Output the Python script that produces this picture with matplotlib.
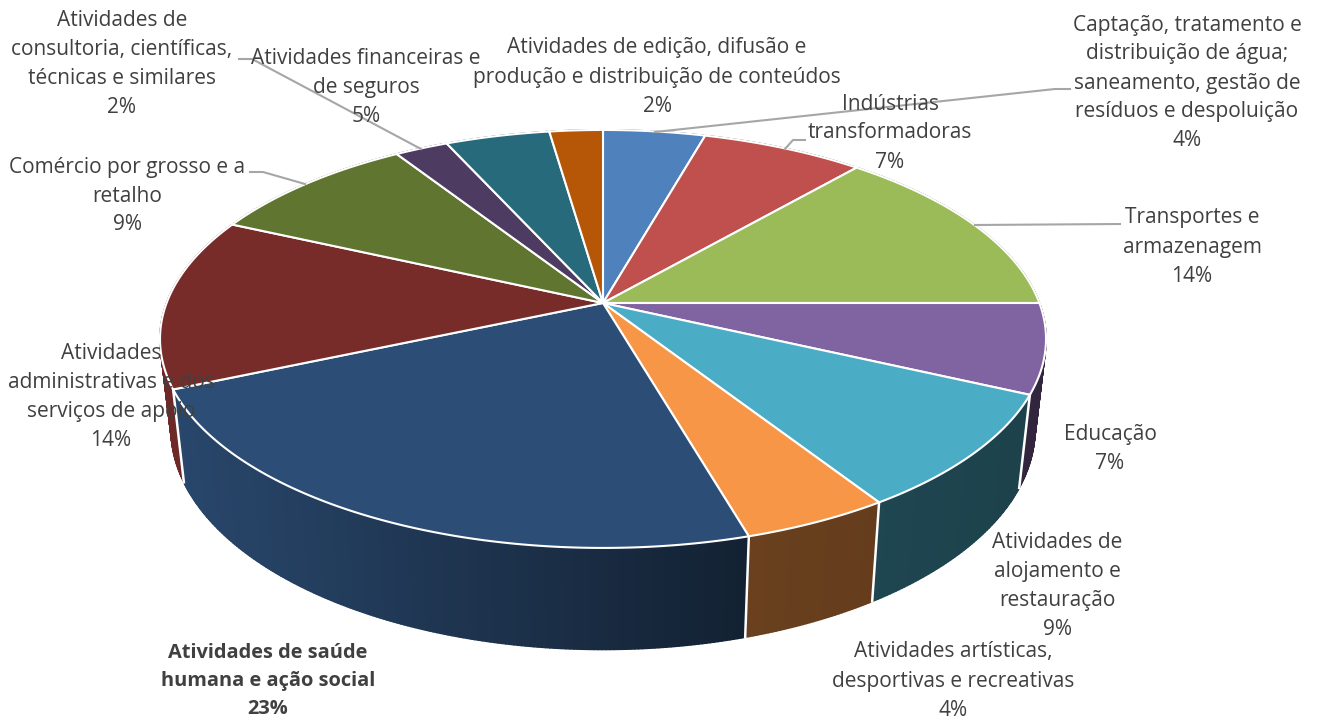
# 3d looking pie, wedges projected by hand since ax.pie is flat

import numpy as np
import matplotlib.pyplot as plt
from matplotlib.collections import PolyCollection

# slice sizes, clockwise from 12 o'clock
shares = [4.4, 7.0, 13.6, 6.9, 9.0, 4.6, 23.0, 13.3, 9.1, 2.3, 4.5, 2.3]
percent_labels = ['4%', '7%', '14%', '7%', '9%', '4%', '23%', '14%', '9%', '2%', '5%', '2%']
names = [
    'Captação, tratamento e\ndistribuição de água;\nsaneamento, gestão de\nresíduos e despoluição',
    'Indústrias\ntransformadoras',
    'Transportes e\narmazenagem',
    'Educação',
    'Atividades de\nalojamento e\nrestauração',
    'Atividades artísticas,\ndesportivas e recreativas',
    'Atividades de saúde\nhumana e ação social',
    'Atividades\nadministrativas e dos\nserviços de apoio',
    'Comércio por grosso e a\nretalho',
    'Atividades de\nconsultoria, científicas,\ntécnicas e similares',
    'Atividades financeiras e\nde seguros',
    'Atividades de edição, difusão e\nprodução e distribuição de conteúdos',
]
colors = ['#4f81bd', '#c0504d', '#9bbb59', '#8064a2', '#4bacc6', '#f79646',
          '#2c4d75', '#772c2a', '#5f7530', '#4d3b62', '#276a7c', '#b65708']

# label centres in pixels
label_xy = [(1187, 83), (890, 133), (1192, 247), (1110, 449), (1057, 586), (953, 681),
            (268, 681), (111, 397), (127, 196), (122, 64), (366, 87), (657, 77)]
leaders = [
    [(655, 132), (1055, 89), (1070, 89)],
    [(785, 149), (793, 140), (805, 140)],
    [(975, 225), (1120, 224)],
    [(305, 184), (263, 172), (250, 172)],
    [(421, 149), (252, 59), (239, 59)],
]

K = 0.172  # perspective


def top_rim(theta):
    u, v = np.sin(theta), np.cos(theta)
    w = 1 + K * v
    return 603 + 436.4 * u / w, 303 - 202.8 * v / w


def low_rim(theta):
    u, v = np.sin(theta), np.cos(theta)
    w = 1 + K * v
    return 603 + 0.975 * 436.4 * u / w, 391 - 214 * v / w


def shade(color, x):
    f = np.interp(x, [184, 745, 1030], [0.92, 0.43, 0.38])
    return tuple(c * f for c in plt.matplotlib.colors.to_rgb(color))


plt.rcParams['font.family'] = ['Open Sans', 'DejaVu Sans']

fig = plt.figure(figsize=(13.17, 7.22), dpi=100)
ax = fig.add_axes([0, 0, 1, 1])
ax.set_xlim(0, 1317)
ax.set_ylim(722, 0)
ax.axis('off')

edges = np.cumsum([0] + shares) / sum(shares) * 2 * np.pi

# outer wall, thin strips so the shading can change along it
for i in range(len(shares)):
    t = np.linspace(edges[i], edges[i + 1], max(int(shares[i] * 8), 4))
    xt, yt = top_rim(t)
    xl, yl = low_rim(t)
    quads, cols = [], []
    for j in range(len(t) - 1):
        quads.append([(xt[j], yt[j]), (xt[j + 1], yt[j + 1]), (xl[j + 1], yl[j + 1]), (xl[j], yl[j])])
        cols.append(shade(colors[i], (xl[j] + xl[j + 1]) / 2))
    ax.add_collection(PolyCollection(quads, facecolors=cols, edgecolors=cols, linewidths=1.2, zorder=1))

for e in edges[:-1]:
    xt, yt = top_rim(e)
    xl, yl = low_rim(e)
    ax.plot([xt, xl], [yt, yl], color='white', lw=1.8, zorder=2)

# top face
for i in range(len(shares)):
    t = np.linspace(edges[i], edges[i + 1], 120)
    x, y = top_rim(t)
    ax.fill(np.r_[603, x], np.r_[303, y], facecolor=colors[i], edgecolor='white', lw=1.5,
            joinstyle='round', zorder=3)

for pts in leaders:
    ax.plot(*zip(*pts), color='#a6a6a6', lw=1.5, zorder=4)

for i in range(len(names)):
    bold = percent_labels[i] == '23%'
    ax.text(label_xy[i][0], label_xy[i][1], names[i] + '\n' + percent_labels[i],
            ha='center', va='center', ma='center', fontsize=14.4 if bold else 15,
            linespacing=1.56 if bold else 1.5,
            color='#404040', fontweight='bold' if bold else 'normal', zorder=5)

fig.savefig('out.png', dpi=100)
